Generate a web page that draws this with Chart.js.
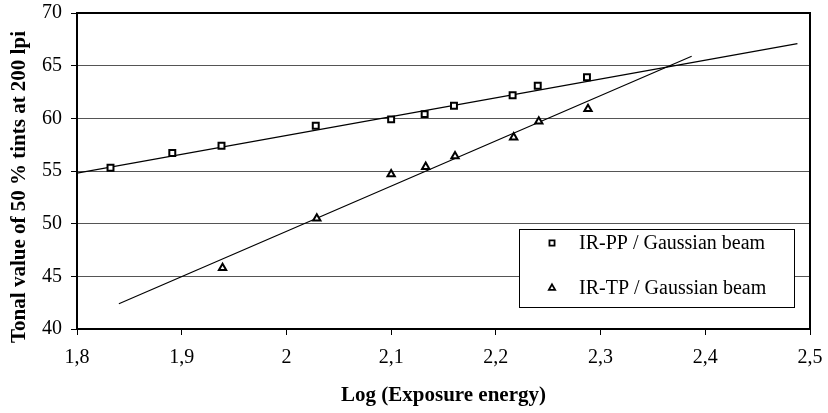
<!DOCTYPE html>
<html>
<head>
<meta charset="utf-8">
<script src="https://cdn.jsdelivr.net/npm/chart.js"></script>
<style>
  html, body { margin: 0; padding: 0; background: #fff; }
  #wrap { width: 828px; height: 413px; position: relative; }
</style>
</head>
<body>
<div id="wrap"><canvas id="myChart"></canvas></div>
<script>
// tonal value vs log exposure energy, two plate types
var ppLogE = [1.832, 1.891, 1.938, 2.028, 2.100, 2.132, 2.160, 2.216, 2.240, 2.287];
var ppTone = [55.3, 56.7, 57.4, 59.3, 59.9, 60.4, 61.2, 62.2, 63.1, 63.9];
var tpLogE = [1.939, 2.029, 2.100, 2.133, 2.161, 2.217, 2.241, 2.288];
var tpTone = [45.8, 50.5, 54.7, 55.4, 56.4, 58.2, 59.7, 60.9];

// linear trend lines (end points)
var ppTrendX = [1.8, 2.488];
var ppTrendY = [54.8, 67.1];
var tpTrendX = [1.84, 2.387];
var tpTrendY = [42.4, 65.9];

var seriesLabels = ['IR-PP / Gaussian beam', 'IR-TP / Gaussian beam'];
var xTicks = [1.8, 1.9, 2.0, 2.1, 2.2, 2.3, 2.4, 2.5];
var yTicks = [40, 45, 50, 55, 60, 65, 70];

var serif = "'Liberation Serif', 'Times New Roman', serif";

function pts(xs, ys) {
    return xs.map(function (x, i) { return {x: x, y: ys[i]}; });
}

function fmt(v) {
    return (Math.round(v * 10) / 10).toString().replace('.', ',');
}

// frame round the plot + rotated y title + boxed legend
var extras = {
    id: 'extras',
    afterDraw: function (chart) {
        var ctx = chart.ctx, ca = chart.chartArea;
        ctx.save();
        ctx.strokeStyle = '#000';
        ctx.lineWidth = 2;
        ctx.strokeRect(ca.left, ca.top, ca.right - ca.left, ca.bottom - ca.top);

        // y axis title
        ctx.translate(20, (ca.top + ca.bottom) / 2 + 16);
        ctx.rotate(-Math.PI / 2);
        ctx.font = 'bold 21px ' + serif;
        ctx.fillStyle = '#000';
        ctx.textAlign = 'center';
        ctx.textBaseline = 'middle';
        ctx.fillText('Tonal value of 50 % tints at 200 lpi', 0, 0);
        ctx.restore();

        // legend
        var bw = 275, bh = 78;
        var bx = ca.right - 16 - bw, by = ca.bottom - 22 - bh;
        ctx.save();
        ctx.fillStyle = '#fff';
        ctx.fillRect(bx, by, bw, bh);
        ctx.strokeStyle = '#000';
        ctx.lineWidth = 1;
        ctx.strokeRect(bx + 0.5, by + 0.5, bw, bh);
        var styles = ['rect', 'triangle'];
        var rows = [14, 59];
        ctx.font = '20px ' + serif;
        ctx.textBaseline = 'middle';
        ctx.textAlign = 'left';
        for (var i = 0; i < 2; i++) {
            ctx.strokeStyle = '#000';
            ctx.fillStyle = '#fff';
            ctx.lineWidth = 1.8;
            Chart.helpers.drawPoint(ctx, {pointStyle: styles[i], radius: 3.6, rotation: 0, borderWidth: 1.8},
                bx + 33, by + rows[i]);
            ctx.fillStyle = '#000';
            ctx.fillText(seriesLabels[i], bx + 60, by + rows[i] + 1);
        }
        ctx.restore();
    }
};

var markerBase = {
    showLine: false,
    borderColor: '#000',
    backgroundColor: '#fff',
    pointBorderWidth: 2,
    pointRadius: 4.2,
    pointHoverRadius: 4.2
};

var chart1 = new Chart(document.getElementById('myChart').getContext('2d'), {
    type: 'scatter',
    data: {
        datasets: [
            Object.assign({label: seriesLabels[0], data: pts(ppLogE, ppTone), pointStyle: 'rect'}, markerBase),
            Object.assign({label: seriesLabels[1], data: pts(tpLogE, tpTone), pointStyle: 'triangle'}, markerBase),
            {label: 'trend PP', data: pts(ppTrendX, ppTrendY), showLine: true, borderColor: '#000',
             borderWidth: 1.2, pointRadius: 0, fill: false},
            {label: 'trend TP', data: pts(tpTrendX, tpTrendY), showLine: true, borderColor: '#000',
             borderWidth: 1.2, pointRadius: 0, fill: false}
        ]
    },
    options: {
        responsive: true,
        maintainAspectRatio: false,
        animation: false,
        layout: { padding: { top: 13, right: 18, left: 0, bottom: 0 } },
        plugins: {
            legend: { display: false },
            tooltip: { enabled: false }
        },
        scales: {
            x: {
                type: 'linear',
                min: 1.8,
                max: 2.5,
                afterBuildTicks: function (axis) {
                    axis.ticks = xTicks.map(function (v) { return {value: v}; });
                },
                afterFit: function (axis) {
                    axis.height = 84;
                    axis.paddingLeft = 0;
                    axis.paddingRight = 0;
                },
                ticks: {
                    color: '#000',
                    padding: 11,
                    maxRotation: 0,
                    font: { family: serif, size: 20 },
                    callback: function (v) { return fmt(v); }
                },
                grid: {
                    drawOnChartArea: false,
                    drawTicks: true,
                    tickLength: 6,
                    color: '#000',
                    tickColor: '#000'
                },
                border: { color: '#000', width: 2 },
                title: {
                    display: true,
                    text: 'Log (Exposure energy)',
                    color: '#000',
                    font: { family: serif, size: 21, weight: 'bold' },
                    padding: { top: 0, bottom: 5 }
                }
            },
            y: {
                min: 40,
                max: 70,
                afterBuildTicks: function (axis) {
                    axis.ticks = yTicks.map(function (v) { return {value: v}; });
                },
                afterFit: function (axis) {
                    axis.width = 77;
                    axis.paddingTop = 0;
                    axis.paddingBottom = 0;
                },
                ticks: {
                    color: '#000',
                    padding: 9,
                    font: { family: serif, size: 20 }
                },
                grid: {
                    color: '#555',
                    lineWidth: 1,
                    tickLength: 6,
                    tickColor: '#000'
                },
                border: { color: '#000', width: 2 }
            }
        }
    },
    plugins: [extras]
});
</script>
</body>
</html>
